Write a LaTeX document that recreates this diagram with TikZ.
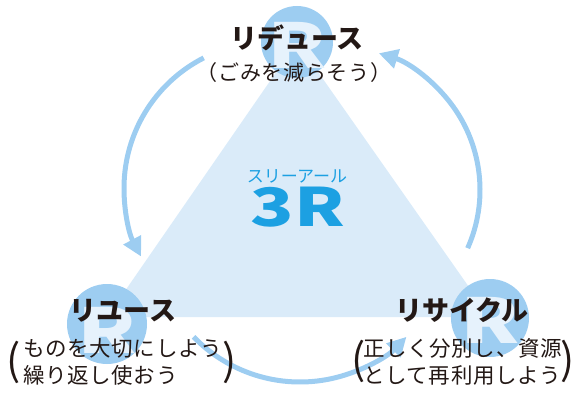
\documentclass[tikz,border=0pt]{standalone}
\usepackage{fontspec}
\newfontfamily\jp{Noto Sans CJK JP}
\newfontfamily\jpnote[LetterSpace=3]{Noto Sans CJK JP}
\newfontfamily\jpwide[FakeStretch=1.35]{Noto Sans CJK JP}
\usetikzlibrary{arrows.meta}
\definecolor{ringblue}{HTML}{9DCDF1}
\definecolor{triblue}{HTML}{DAEBF9}
\definecolor{rpale}{HTML}{E6F2FC}
\definecolor{titleblue}{HTML}{1CA0E2}
\definecolor{inkgray}{HTML}{231815}
\begin{document}
\begin{tikzpicture}[x=1pt,y=1pt,
	cyc/.style={ringblue,line width=5pt,-{Triangle[length=19pt,width=19pt]}}]
	\useasboundingbox (0,0) rectangle (575,392);
	\coordinate (tt) at (297,350);
	\coordinate (tl) at (107,75);
	\coordinate (tr) at (490,75);
	\fill[triblue] (tt) -- (tl) -- (tr) -- cycle;
	\begin{scope}[every node/.style={circle,fill=ringblue,inner sep=0}]
		\node[minimum size=72pt] (rtop) at (297,350) {};
		\node[minimum size=80pt] (rleft) at (107,68) {};
		\node[minimum size=78pt] (rright) at (490,74) {};
	\end{scope}
	\begin{scope}[every node/.style={text=rpale,font=\jpwide\bfseries\fontsize{62}{62}\selectfont,inner sep=0}]
		\node (rtopR) at ([yshift=-3pt]rtop) {R};
		\node (rleftR) at ([yshift=-6pt]rleft) {R};
		\node (rrightR) at ([yshift=-2pt]rright) {R};
	\end{scope}
	\coordinate (lc) at (270,204);
	\coordinate (rc) at (337,202);
	\coordinate (bc) at (300,158);
	\draw[cyc] ([shift={(117:146)}]lc) arc[start angle=117,end angle=208,radius=146];
	\draw[cyc] ([shift={(-24:143)}]rc) arc[start angle=-24,end angle=73,radius=143];
	\draw[cyc] ([shift={(224:148)}]bc) arc[start angle=224,end angle=316,radius=148];
	\begin{scope}[every node/.style={text=inkgray,inner sep=0}]
		\node[font=\jp\bfseries\fontsize{27}{27}\selectfont] (reduce) at (297,354) {リデュース};
		\node[font=\jpnote\fontsize{21}{21}\selectfont] (reducenote) at (294,319) {（ごみを減らそう）};
		\node[font=\jp\bfseries\fontsize{27}{27}\selectfont] (reuse) at (123,81) {リユース};
		\node[font=\jpnote\fontsize{21.5}{27}\selectfont,anchor=west,align=left] (reusenote) at (23,30.5) {ものを大切にしよう\\繰り返し使おう};
		\node[font=\jp\fontsize{42}{42}\selectfont] (reuseopen) at (14,30) {(};
		\node[font=\jp\fontsize{42}{42}\selectfont] (reuseclose) at (230,30) {)};
		\node[font=\jp\bfseries\fontsize{27}{27}\selectfont] (recycle) at (462,82) {リサイクル};
		\node[font=\jpnote\fontsize{21.5}{27}\selectfont,anchor=west,align=left] (recyclenote) at (363,30.5) {正しく分別し、資源\\として再利用しよう};
		\node[font=\jp\fontsize{42}{42}\selectfont] (recycleopen) at (359,31) {(};
		\node[font=\jp\fontsize{42}{42}\selectfont] (recycleclose) at (568,31) {)};
	\end{scope}
	\node[text=titleblue,font=\jp\fontsize{17}{17}\selectfont,inner sep=0] (threername) at (297,216) {スリーアール};
	\node[text=titleblue,font=\jpwide\bfseries\fontsize{53}{53}\selectfont,inner sep=0] (threer) at (298,184.5) {3R};
\end{tikzpicture}
\end{document}
